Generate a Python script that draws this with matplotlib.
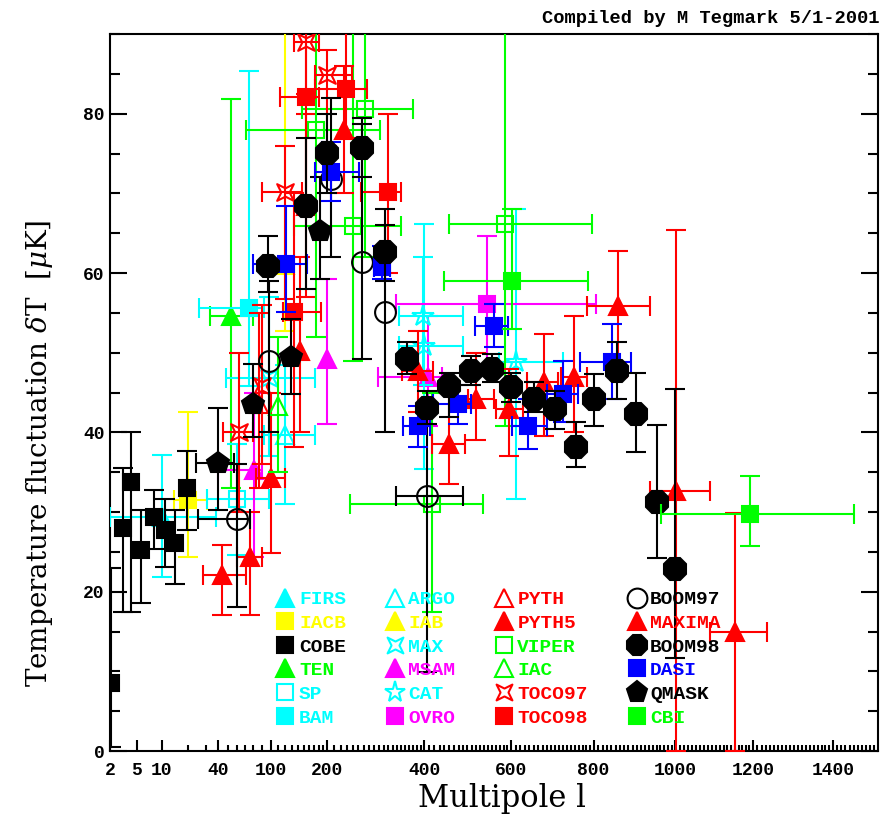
import numpy as np
import matplotlib
matplotlib.use("Agg")
import matplotlib.pyplot as plt
from matplotlib.lines import Line2D
from matplotlib.path import Path

# ---------------- data: (l, dT, dT_low, dT_high, l_low, l_high) ----------------
COBE = [(2.1, 8.5, 0.5, 23.0, None, None), (3.1, 28.0, 17.5, 35.5, None, None),
        (4.1, 33.8, 17.5, 40.0, None, None), (5.6, 25.2, 18.6, 30.3, None, None),
        (8.0, 29.4, 25.3, 32.8, None, None), (10.9, 27.8, 23.1, 31.6, None, None),
        (14.3, 26.1, 20.9, 30.3, None, None), (19.4, 33.0, 27.8, 37.6, None, None)]
FIRS = [(10.0, 29.4, 21.8, 37.2, 2.0, 38.0)]
IACB = [(20.0, 31.5, 24.3, 42.5, 14.0, 31.0)]
TEN = [(54.0, 54.6, 33.0, 81.9, 33.0, 80.0)]
SP = [(60.0, 31.6, 24.6, 38.5, 31.0, 98.0)]
BAM = [(75.0, 55.6, 45.8, 85.3, 26.0, 93.0)]
ARGO = [(120.0, 39.7, 31.0, 48.5, 93.0, 173.0)]
IAB = [(120.0, 61.0, 52.7, 95.0, None, None)]
MAX = [(98.0, 46.8, 37.0, 57.0, 48.0, 173.0)]
MSAM = [(81.0, 35.3, 24.4, 45.0, 40.0, 91.0), (200.0, 49.2, 41.0, 59.2, None, None),
        (407.0, 47.0, 40.8, 54.6, 287.0, 434.0)]
CAT = [(400.0, 50.8, 35.4, 66.2, 334.0, 480.0), (396.0, 54.6, 46.0, 62.0, 334.0, 480.0),
       (612.0, 48.8, 31.6, 68.0, 567.0, 720.0)]
OVRO = [(536.0, 56.1, 47.5, 64.7, 327.0, 805.0)]
PYTH = [(87.0, 43.6, 33.0, 55.0, None, None), (154.0, 68.4, 57.0, 80.0, None, None)]
PYTH5 = [(44.0, 22.1, 17.1, 25.9, 28.0, 72.0), (77.0, 24.3, 17.1, 30.0, 61.0, 91.0),
         (100.0, 34.3, 24.9, 45.0, 84.0, 120.0), (144.0, 50.2, 40.0, 62.0, None, None)]
VIPER = [(174.0, 77.9, 52.0, 95.0, 72.0, 291.0), (241.0, 65.9, 49.0, 95.0, 133.0, 338.0),
         (262.0, 80.6, 62.0, 95.0, 147.0, 369.0), (416.0, 31.0, 17.5, 45.0, 235.0, 526.0),
         (584.0, 66.2, 40.8, 95.0, 450.0, 796.0)]
IAC = [(110.0, 43.3, 35.0, 52.0, None, None)]
TOCO97 = [(63.0, 40.1, 30.0, 50.0, 45.0, 80.0), (91.0, 45.8, 36.0, 56.0, None, None),
          (120.0, 70.2, 56.7, 76.0, 91.0, 146.0), (155.0, 89.0, 82.5, 95.0, 133.0, 180.0),
          (200.0, 84.9, 76.0, 88.0, 171.0, 239.0)]
TOCO98 = [(133.0, 55.1, 38.2, 70.0, 116.0, 186.0), (155.0, 82.1, 67.6, 95.0, 112.0, 180.0),
          (229.0, 83.1, 76.9, 95.0, 171.0, 265.0), (310.0, 70.2, 60.0, 80.0, 255.0, 340.0)]
BOOM97 = [(60.0, 29.1, 18.1, 36.0, 25.0, 77.0), (98.0, 48.9, 40.0, 59.0, None, None),
          (205.0, 71.8, 62.0, 82.0, None, None), (256.0, 61.4, 49.2, 78.7, None, None),
          (303.0, 55.1, 40.0, 68.0, None, None), (405.0, 32.0, 9.9, 43.0, 328.0, 480.0)]
MAXIMA = [(225.0, 77.9, 70.0, 86.0, None, None), (383.0, 47.7, 42.5, 52.7, 342.0, 418.0),
          (450.0, 38.5, 33.5, 45.0, 416.0, 485.0), (510.0, 44.2, 39.1, 50.0, 492.0, 556.0),
          (595.0, 42.9, 37.0, 47.9, 561.0, 627.0), (673.0, 46.3, 39.5, 52.3, 635.0, 706.0),
          (747.0, 46.9, 40.0, 54.6, 714.0, 781.0), (856.0, 55.8, 47.0, 62.8, 781.0, 934.0),
          (1002.0, 32.6, 0.0, 65.4, 934.0, 1085.0), (1149.0, 15.0, 0.0, 29.9, 1085.0, 1233.0)]
BOOM98 = [(97, 60.9, 57.6, 64.7, None, None), (154, 68.4, 58.0, 77.0, None, None),
          (200, 75.1, 70.0, 80.0, None, None), (256, 75.7, 72.0, 79.5, None, None),
          (303, 62.6, 59.0, 66.0, None, None), (353, 49.2, 47.3, 51.3, None, None),
          (405, 43.1, 41.0, 45.2, None, None), (450, 45.8, 41.9, 47.5, None, None),
          (498, 47.7, 46.0, 49.6, None, None), (549, 47.9, 46.3, 49.8, None, None),
          (600, 45.7, 43.8, 47.5, None, None), (651, 44.2, 42.5, 46.3, None, None),
          (699, 42.9, 40.4, 45.2, None, None), (752, 38.2, 35.6, 41.3, None, None),
          (800, 44.2, 40.8, 47.3, None, None), (854, 47.7, 44.2, 51.4, None, None),
          (898, 42.3, 37.5, 47.5, None, None), (951, 31.3, 24.2, 40.9, None, None),
          (998, 22.8, 11.7, 45.5, None, None)]
DASI = [(121, 61.1, 55.1, 68.4, 80, 156), (205, 72.7, 69.1, 76.5, 171, 251),
        (295, 60.8, 59.2, 63.4, 280, 313), (383, 40.8, 38.2, 43.3, 344, 411),
        (468, 43.5, 41.0, 46.0, 418, 499), (556, 53.3, 50.7, 56.1, 508, 591),
        (637, 40.8, 37.9, 44.2, 602, 680), (719, 44.8, 41.3, 48.9, 680, 757),
        (841, 48.8, 44.2, 53.6, 763, 885)]
QMASK = [(40, 36.2, 30.3, 43.1, 24, 57), (80, 43.6, 39.4, 48.6, None, None),
         (128, 49.4, 44.8, 54.2, None, None), (182, 65.3, 59.2, 72.0, None, None)]
CBI = [(602, 59.0, 53.0, 68.0, 439, 786), (1192, 29.7, 25.7, 34.5, 963, 1450)]

X_TICKS = [2, 5, 10, 40, 100, 200, 400, 600, 800, 1000, 1200, 1400]
Y_TICKS = [0, 20, 40, 60, 80]

DATA = {"FIRS": FIRS, "IACB": IACB, "COBE": COBE, "TEN": TEN, "SP": SP, "BAM": BAM,
        "ARGO": ARGO, "IAB": IAB, "MAX": MAX, "MSAM": MSAM, "CAT": CAT, "OVRO": OVRO,
        "PYTH": PYTH, "PYTH5": PYTH5, "VIPER": VIPER, "IAC": IAC, "TOCO97": TOCO97,
        "TOCO98": TOCO98, "BOOM97": BOOM97, "MAXIMA": MAXIMA, "BOOM98": BOOM98,
        "DASI": DASI, "QMASK": QMASK, "CBI": CBI}
LEGEND_ORDER = ["FIRS", "IACB", "COBE", "TEN", "SP", "BAM",
                "ARGO", "IAB", "MAX", "MSAM", "CAT", "OVRO",
                "PYTH", "PYTH5", "VIPER", "IAC", "TOCO97", "TOCO98",
                "BOOM97", "MAXIMA", "BOOM98", "DASI", "QMASK", "CBI"]
PLOT_ORDER = ["FIRS", "IACB", "TEN", "SP", "BAM", "ARGO", "IAB", "MAX", "MSAM", "CAT",
              "OVRO", "PYTH", "PYTH5", "VIPER", "IAC", "TOCO97", "TOCO98", "BOOM97",
              "MAXIMA", "COBE", "QMASK", "DASI", "BOOM98", "CBI"]

# ---------------- styles ----------------
CY, YE, BK, GR, MG, RD, BL = "#00ffff", "#ffff00", "#000000", "#00ff00", "#ff00ff", "#ff0000", "#0000ff"
s4 = 0.5
STAR4 = Path([(-1, -1), (0, -s4), (1, -1), (s4, 0), (1, 1), (0, s4), (-1, 1), (-s4, 0), (-1, -1)],
             closed=True)
STYLE = {  # marker, colour, filled, size
    "FIRS": ("^", CY, True, 13), "IACB": ("s", YE, True, 12), "COBE": ("s", BK, True, 12),
    "TEN": ("^", GR, True, 13), "SP": ("s", CY, False, 12), "BAM": ("s", CY, True, 12),
    "ARGO": ("^", CY, False, 13), "IAB": ("^", YE, True, 13), "MAX": (STAR4, CY, False, 12),
    "MSAM": ("^", MG, True, 13), "CAT": ("*", CY, False, 16), "OVRO": ("s", MG, True, 12),
    "PYTH": ("^", RD, False, 13), "PYTH5": ("^", RD, True, 13), "VIPER": ("s", GR, False, 12),
    "IAC": ("^", GR, False, 13), "TOCO97": (STAR4, RD, False, 12), "TOCO98": ("s", RD, True, 12),
    "BOOM97": ("o", BK, False, 15), "MAXIMA": ("^", RD, True, 13), "BOOM98": ("8", BK, True, 17),
    "DASI": ("s", BL, True, 12), "QMASK": ("p", BK, True, 16), "CBI": ("s", GR, True, 12)}

# ---------------- custom multipole axis (log-ish at low l, ~linear at high l) ----------------
_L = np.log([1, 2, 5, 10, 20, 30, 40, 50, 60, 70, 80, 90, 100, 200, 400, 600, 800, 1000, 1200, 1400, 1600])
_P = np.array([89.6, 110, 137, 162, 188, 206, 218, 228, 237, 245, 253, 262, 271, 328, 425,
               512, 595, 677, 755, 835, 915], float)


def fwd(l):
    ll = np.log(np.clip(np.asarray(l, float), 1e-3, None))
    return np.interp(ll, _L, _P)


def inv(p):
    return np.exp(np.interp(np.asarray(p, float), _P, _L))


mono = "Liberation Mono"
serif = "DejaVu Serif"
plt.rcParams["mathtext.fontset"] = "dejavuserif"

fig = plt.figure(figsize=(8.86, 8.25), dpi=100)
ax = fig.add_axes([110 / 886, 1 - 751 / 825, 768 / 886, 717 / 825])
ax.set_xscale("function", functions=(fwd, inv))
ax.set_xlim(2, 1510)
ax.set_ylim(0, 90)

CAP = 7
LW = 1.5
for z, name in enumerate(PLOT_ORDER):
    marker, color, filled, ms = STYLE[name]
    arr = np.array([[np.nan if v is None else v for v in r] for r in DATA[name]], float)
    l, T, lo, hi, llo, lhi = arr.T
    hasx = ~np.isnan(llo)
    if hasx.any():
        ax.errorbar(l[hasx], T[hasx], xerr=[l[hasx] - llo[hasx], lhi[hasx] - l[hasx]],
                    fmt="none", ecolor=color, elinewidth=LW, capsize=CAP, capthick=LW,
                    zorder=3 + z)
    ax.errorbar(l, T, yerr=[T - lo, hi - T], fmt="", marker=marker, linestyle="none",
                color=color, mfc=color if filled else "none", mec=color, ms=ms, mew=1.5,
                ecolor=color, elinewidth=LW, capsize=CAP, capthick=LW, zorder=3.5 + z)

# ticks
ax.set_xticks(X_TICKS)
ax.set_xticklabels([str(t) for t in X_TICKS])
ax.set_xticks([m for m in range(20, 1510, 10) if m not in X_TICKS], minor=True)
ax.set_yticks(Y_TICKS)
ax.set_yticks(np.arange(0, 91, 5), minor=True)
ax.tick_params(axis="both", which="both", direction="in", width=1.5, top=False, right=True)
ax.tick_params(axis="x", which="major", length=8, pad=8)
ax.tick_params(axis="x", which="minor", length=4)
ax.tick_params(axis="y", which="major", length=12, pad=4)
ax.tick_params(axis="y", which="minor", length=7)
for lab in ax.get_xticklabels() + ax.get_yticklabels():
    lab.set_fontfamily(mono)
    lab.set_fontweight("bold")
    lab.set_fontsize(13)
for sp in ax.spines.values():
    sp.set_linewidth(1.5)

ax.set_xlabel("Multipole l", fontfamily=serif, fontsize=22)
ax.xaxis.set_label_coords(0.51, -0.045)
ax.set_ylabel(r"Temperature fluctuation $\delta$T  [$\mu$K]", fontfamily=serif, fontsize=20)
ax.yaxis.set_label_coords(-0.072, 0.415)

fig.text(0.993, 0.978, "Compiled by M Tegmark 5/1-2001", ha="right", va="center",
         fontfamily=mono, fontweight="bold", fontsize=13.5)

# legend
handles, colors = [], []
for name in LEGEND_ORDER:
    marker, color, filled, ms = STYLE[name]
    handles.append(Line2D([0], [0], marker=marker, ls="none", color=color,
                          mfc=color if filled else "none", mec=color, mew=1.5,
                          ms=ms * 0.95, label=name))
    colors.append(color)
leg = ax.legend(handles=handles, ncol=4, loc="upper left", bbox_to_anchor=(0.217, 0.2235),
                frameon=False, borderpad=0, borderaxespad=0, handlelength=0.9,
                handletextpad=0.25, columnspacing=2.05, labelspacing=0.31,
                prop={"family": mono, "weight": "bold", "size": 14}, labelcolor=colors)
leg.set_zorder(100)

fig.savefig("out.png", dpi=100)
